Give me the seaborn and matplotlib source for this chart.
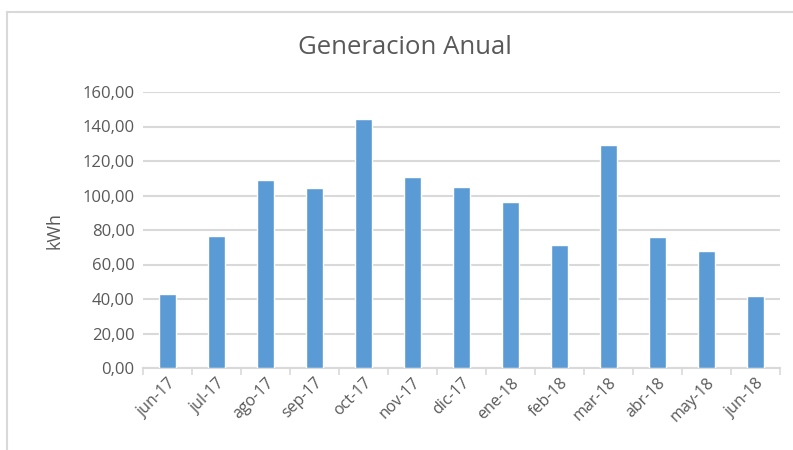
import matplotlib
matplotlib.use("Agg")
import matplotlib.pyplot as plt
from matplotlib.lines import Line2D
from matplotlib.ticker import FuncFormatter
import seaborn as sns
import pandas as pd

months = ["jun-17", "jul-17", "ago-17", "sep-17", "oct-17", "nov-17", "dic-17",
          "ene-18", "feb-18", "mar-18", "abr-18", "may-18", "jun-18"]
kwh = [43.0, 76.7, 108.7, 104.1, 144.2, 110.5, 104.7,
       96.5, 71.5, 129.1, 76.2, 68.0, 41.9]
y_ticks = [0, 20, 40, 60, 80, 100, 120, 140, 160]

sns.set_theme(style="white")
plt.rcParams['font.family'] = ['Open Sans', 'DejaVu Sans']

text_color = '#595959'
grid_color = '#d9d9d9'

df = pd.DataFrame({'Mes': months, 'kWh': kwh})

fig = plt.figure(figsize=(7.93, 4.5), dpi=100)
ax = fig.add_axes([143 / 793, 1 - 368 / 450, (780 - 143) / 793, (368 - 92) / 450])

sns.barplot(data=df, x='Mes', y='kWh', color='#5b9bd5', width=0.33,
            saturation=1, ax=ax, zorder=3)

ax.set_ylim(0, 160)
ax.set_xlim(-0.5, len(months) - 0.5)
ax.set_yticks(y_ticks)
ax.yaxis.set_major_formatter(FuncFormatter(lambda v, p: f"{v:.2f}".replace('.', ',')))
ax.yaxis.grid(True, color=grid_color, linewidth=1.5, zorder=0)
ax.set_axisbelow(True)

for s in ['top', 'right', 'left']:
    ax.spines[s].set_visible(False)
ax.spines['bottom'].set_color(grid_color)
ax.spines['bottom'].set_linewidth(1.5)

# category separator ticks on x axis
ax.set_xticks([i - 0.5 for i in range(len(months) + 1)], minor=True)
ax.tick_params(axis='x', which='minor', length=5, color=grid_color, width=1.2, bottom=True)
ax.tick_params(axis='x', which='major', length=0, pad=5)
ax.tick_params(axis='y', length=0, pad=6)
ax.set_xticks(range(len(months)))
ax.set_xticklabels(months, rotation=45, ha='right', rotation_mode='anchor',
                   fontsize=11.5, color=text_color)
for lbl in ax.get_yticklabels():
    lbl.set_fontsize(12)
    lbl.set_color(text_color)

ax.set_xlabel('')
ax.set_ylabel('kWh', fontsize=13, color=text_color, labelpad=14)

fig.text(405 / 793, 1 - 48 / 450, 'Generacion Anual', ha='center', va='center',
         fontsize=18.5, color=text_color)

# chart area border (left and top)
fig.add_artist(Line2D([7 / 793, 7 / 793], [0, 1 - 12 / 450], transform=fig.transFigure,
                      color=grid_color, linewidth=1.5))
fig.add_artist(Line2D([7 / 793, 1], [1 - 12 / 450, 1 - 12 / 450], transform=fig.transFigure,
                      color=grid_color, linewidth=1.5))

fig.savefig('out.png', dpi=100, facecolor='white')
